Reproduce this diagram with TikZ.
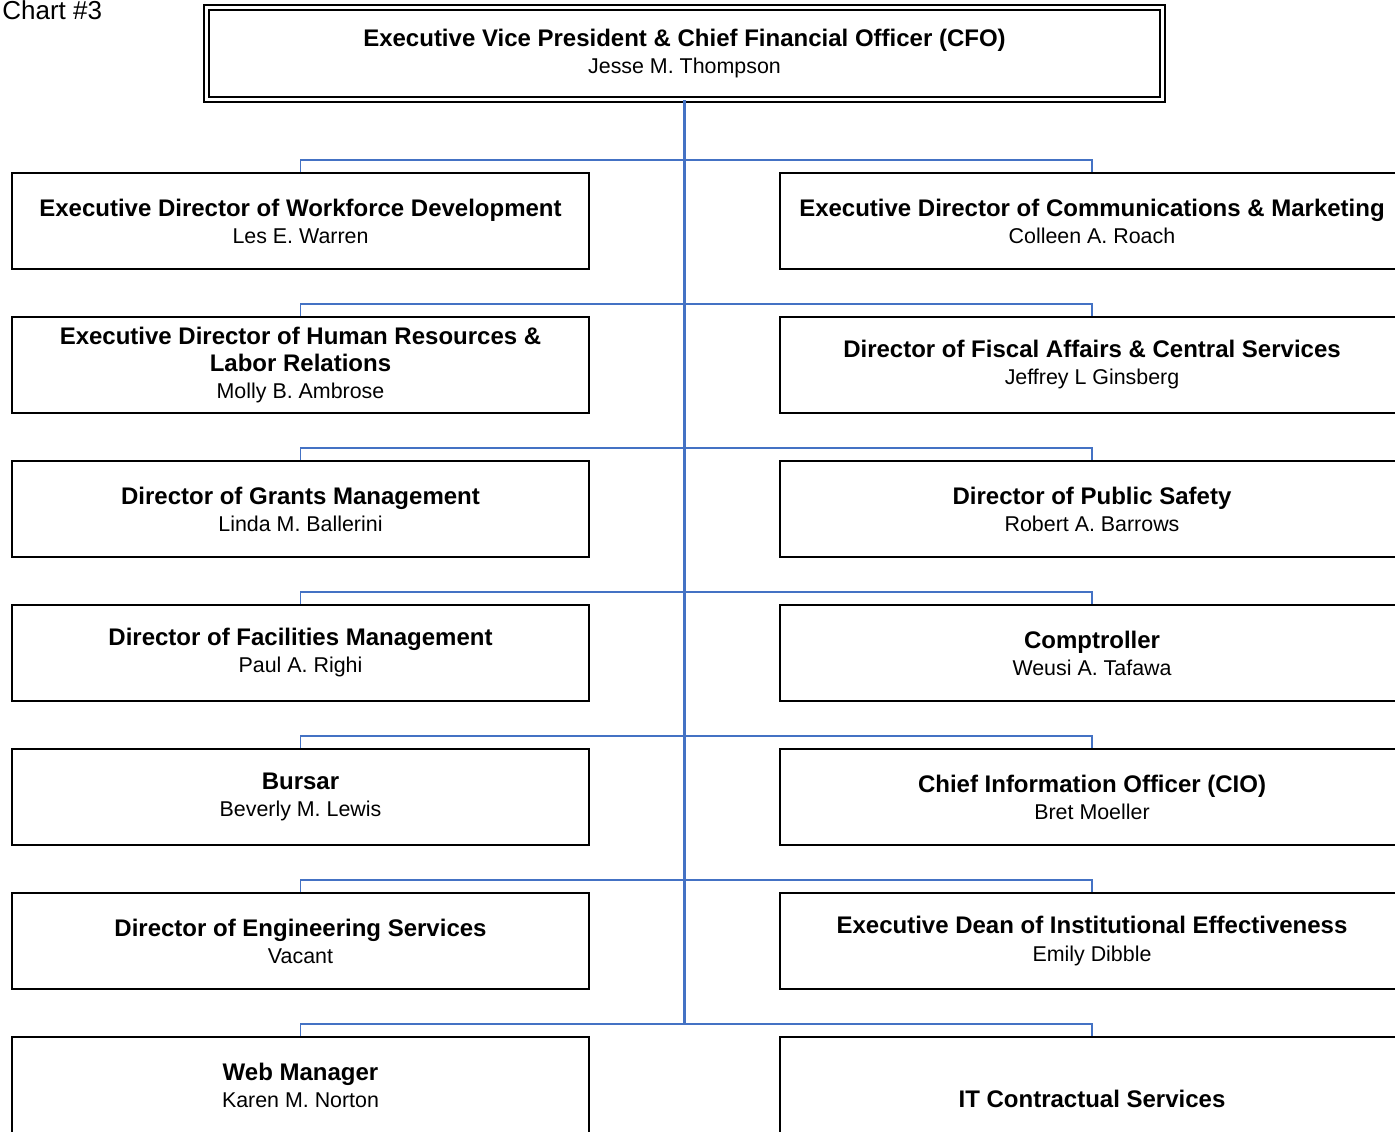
\documentclass[tikz,border=0pt]{standalone}
\usepackage{fontspec}
\setmainfont{Liberation Sans}
\usetikzlibrary{positioning}
\definecolor{busblue}{RGB}{68,114,196}
\newcommand{\unit}[2]{{\fontsize{12}{13.5}\selectfont\bfseries #1}\\#2}

\begin{document}
\begin{tikzpicture}[x=0.5pt,y=-0.5pt,
		unitbox/.style={draw=black, line width=0.8pt, minimum height=48pt, align=center, inner sep=0pt, font=\fontsize{10.7}{13.5}\selectfont},
		leftbox/.style={unitbox, minimum width=288.5pt},
		rightbox/.style={unitbox, minimum width=312pt},
		trunk/.style={draw=busblue, line width=1.25pt},
		bus/.style={draw=busblue, line width=0.9pt}]
		%%%%% START %%%%%
		
		\useasboundingbox (0,0) rectangle (1395,1131);
		\clip (0,0) rectangle (1395,1131);
		
		\node[anchor=base west, inner sep=0pt, font=\fontsize{13}{14}\selectfont] (chart) at (2,19) {Chart \#3};
		
		\node[unitbox, double, double distance=1.75pt, minimum width=478pt, minimum height=46pt] (cfo) at (684.5,53.5) {\unit{Executive Vice President \& Chief Financial Officer (CFO)}{Jesse M. Thompson}};
		
		\node[leftbox] (wd) at (300.5,221) {\unit{Executive Director of Workforce Development}{Les E. Warren}};
		\node[rightbox] (cm) at (1092,221) {\unit{Executive Director of Communications \& Marketing}{Colleen A. Roach}};
		
		\node[leftbox] (hr) at (300.5,365) {{\fontsize{12}{13.5}\selectfont\bfseries Executive Director of Human Resources \&}\\{\fontsize{12}{13.5}\selectfont\bfseries Labor Relations}\\Molly B. Ambrose};
		\node[rightbox] (fa) at (1092,365) {\unit{Director of Fiscal Affairs \& Central Services}{Jeffrey L Ginsberg}};
		
		\node[leftbox] (gm) at (300.5,509) {\unit{Director of Grants Management}{Linda M. Ballerini}};
		\node[rightbox] (ps) at (1092,509) {\unit{Director of Public Safety}{Robert A. Barrows}};
		
		\node[leftbox] (fm) at (300.5,653) {\unit{Director of Facilities Management}{Paul A. Righi}};
		\node[rightbox] (co) at (1092,653) {\unit{Comptroller}{Weusi A. Tafawa}};
		
		\node[leftbox] (bu) at (300.5,797) {\unit{Bursar}{Beverly M. Lewis}};
		\node[rightbox] (cio) at (1092,797) {\unit{Chief Information Officer (CIO)}{Bret Moeller}};
		
		\node[leftbox] (es) at (300.5,941) {\unit{Director of Engineering Services}{Vacant}};
		\node[rightbox] (ied) at (1092,941) {\unit{Executive Dean of Institutional Effectiveness}{Emily Dibble}};
		
		\node[leftbox] (wm) at (300.5,1085) {\unit{Web Manager}{Karen M. Norton}};
		\node[rightbox, minimum height=62pt] (itc) at (1092,1099) {\fontsize{12}{13.5}\selectfont\bfseries IT Contractual Services};
		
		% trunk and buses
		\coordinate (trunkend) at (684,1025);
		\draw[trunk] (cfo.south) -- (cfo.south |- trunkend);
		\foreach \l/\r in {wd/cm,hr/fa,gm/ps,fm/co,bu/cio,es/ied,wm/itc}
		\draw[bus] (\l.north) -- ++(0,-12) -| (\r.north);
		
		%%%%% END %%%%%
\end{tikzpicture}
\end{document}
